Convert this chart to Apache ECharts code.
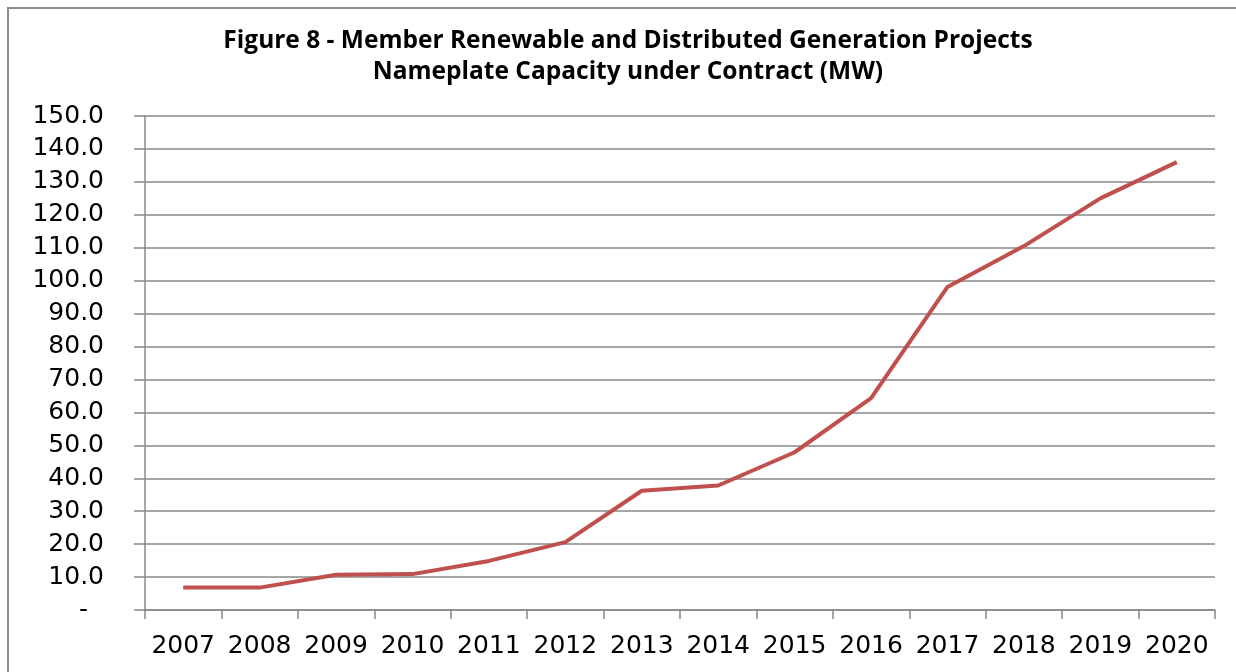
<!DOCTYPE html>
<html>
<head>
<meta charset="utf-8">
<script src="https://cdn.jsdelivr.net/npm/echarts@6/dist/echarts.min.js"></script>
<style>
  html, body { margin: 0; padding: 0; background: #fff; }
  #chart { width: 1236px; height: 672px; }
</style>
</head>
<body>
<div id="chart"></div>
<script>
const years = ['2007', '2008', '2009', '2010', '2011', '2012', '2013', '2014', '2015', '2016', '2017', '2018', '2019', '2020']
const capacity = [6.8, 6.8, 10.7, 10.9, 14.9, 20.6, 36.2, 37.8, 47.9, 64.3, 98.1, 110.5, 125.0, 136.0]
const titleLines = [
  'Figure 8 - Member Renewable and Distributed Generation Projects',
  'Nameplate Capacity under Contract (MW)'
]

const chart = echarts.init(document.getElementById('chart'))
const option = {
  animation: false,
  backgroundColor: '#ffffff',
  title: {
    text: titleLines.join('\n'),
    left: 623,
    textAlign: 'center',
    top: 21,
    textStyle: {
      fontFamily: 'Open Sans',
      fontWeight: 'bold',
      fontSize: 24.5,
      lineHeight: 31,
      color: '#000000'
    }
  },
  graphic: [
    {
      type: 'polyline',
      shape: { points: [[8, 700], [8, 8], [1240, 8]] },
      style: { stroke: '#8c8c8c', lineWidth: 2, fill: null }
    }
  ],
  grid: {
    left: 145,
    right: 21,
    top: 116,
    bottom: 62
  },
  xAxis: {
    type: 'category',
    data: years,
    boundaryGap: true,
    axisLine: { lineStyle: { color: '#888888', width: 1.5 } },
    axisTick: { show: true, length: 9, lineStyle: { color: '#888888', width: 1.5 } },
    axisLabel: {
      color: '#000000',
      fontFamily: 'DejaVu Sans',
      fontSize: 25,
      margin: 24,
      interval: 0
    }
  },
  yAxis: {
    type: 'value',
    min: 0,
    max: 150,
    interval: 10,
    axisLine: { show: true, lineStyle: { color: '#888888', width: 1.5 } },
    axisTick: { show: true, inside: false, length: 11, lineStyle: { color: '#888888', width: 1.5 } },
    splitLine: { show: true, lineStyle: { color: '#888888', width: 1.5 } },
    axisLabel: {
      color: '#000000',
      fontFamily: 'DejaVu Sans',
      fontSize: 25,
      margin: 41,
      formatter: v => (v === 0 ? '-  ' : v.toFixed(1))
    }
  },
  series: [
    {
      name: 'Capacity',
      type: 'line',
      data: capacity,
      symbol: 'none',
      lineStyle: { color: '#c0504d', width: 4 },
      itemStyle: { color: '#c0504d' }
    }
  ]
}
chart.setOption(option)
</script>
</body>
</html>
